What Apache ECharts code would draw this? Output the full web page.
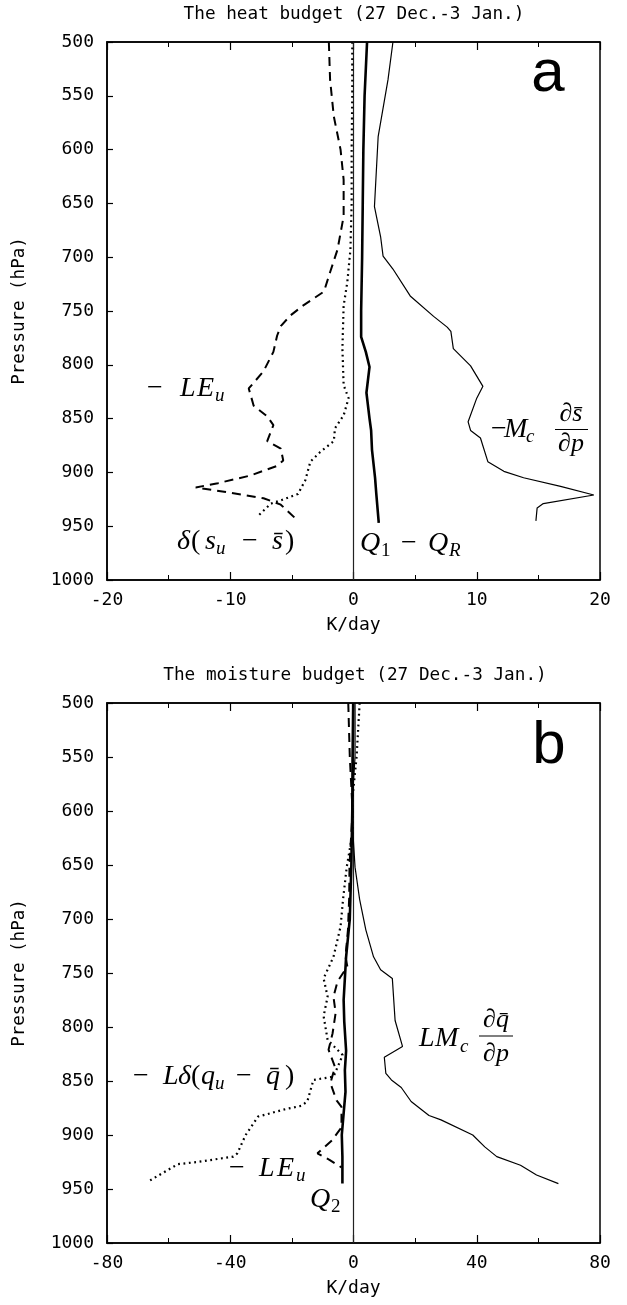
<!DOCTYPE html>
<html><head><meta charset="utf-8">
<script src="https://cdn.jsdelivr.net/npm/echarts/dist/echarts.min.js"></script>
<style>html,body{margin:0;padding:0;background:#fff}#c{width:627px;height:1305px}</style>
</head><body><div id="c"></div>
<script>
// ---------- data (pressure hPa, value K/day) ----------
const pressureTicks = [500,550,600,650,700,750,800,850,900,950,1000];

// Panel a: heat budget
const a_Q1QR_p = [500,550,600,650,700,750,774,788,802,826,850,861,879,905,920,947];
const a_Q1QR_v = [1.1,0.9,0.8,0.75,0.7,0.62,0.62,1.0,1.3,1.05,1.3,1.43,1.5,1.75,1.85,2.05];

const a_Mc_p = [500,535,588,653,681,699,711,736,755,765,769,785,801,820,831,853,861,868,890,899,905,913,921,929,933,945];
const a_Mc_v = [3.2,2.8,2.0,1.7,2.2,2.4,3.2,4.6,6.5,7.6,7.9,8.1,9.5,10.5,10.0,9.3,9.5,10.3,10.9,12.2,13.8,16.8,19.5,15.4,14.9,14.8];

const a_LEu_p = [500,535,569,600,628,662,693,714,732,745,754,764,773,788,806,822,838,848,856,871,878,889,894,903,910,914,918,924,930,945];
const a_LEu_v = [-2.0,-1.9,-1.6,-1.05,-0.8,-0.8,-1.3,-1.9,-2.4,-4.1,-5.1,-5.9,-6.2,-6.5,-7.3,-8.5,-8.1,-7.0,-6.5,-7.0,-5.9,-5.7,-6.2,-8.4,-11,-12.8,-10.5,-7.3,-5.9,-4.5];

const a_dS_p = [500,550,600,650,693,723,745,785,819,831,847,859,871,881,890,907,920,926,929,940];
const a_dS_v = [-0.1,-0.1,-0.15,-0.15,-0.25,-0.5,-0.8,-0.9,-0.8,-0.4,-0.8,-1.5,-1.6,-2.7,-3.5,-3.9,-4.5,-5.9,-6.7,-7.7];

// Panel b: moisture budget
const b_Q2_p = [500,550,600,650,700,735,775,795,822,840,860,880,900,920,945];
const b_Q2_v = [-0.1,-0.3,-0.4,-0.7,-1.2,-2.4,-3.2,-3.0,-2.4,-2.8,-2.6,-3.2,-3.8,-3.6,-3.6];

const b_LEu_p = [500,550,600,650,680,710,735,744,758,772,787,806,821,837,852,868,874,893,905,917,923,930];
const b_LEu_v = [-1.7,-1.2,-0.3,-1.3,-1.4,-1.8,-2.6,-2.0,-5.2,-6.5,-5.8,-6.8,-8.1,-6.0,-7.5,-5.5,-3.9,-3.9,-7,-11.7,-7.8,-3.9];

const b_dQ_p = [500,550,590,620,652,682,707,735,755,772,790,812,826,846,849,869,873,876,883,900,917,920,925,927,942];
const b_dQ_v = [2,1,-0.4,-0.3,-2.2,-3.4,-4.2,-6.5,-9.7,-8.4,-9.7,-8.4,-3.5,-6.5,-13,-15,-17,-22,-31,-35,-37.7,-39,-50.6,-57,-66];

const b_LMc_p = [500,550,590,620,652,682,710,735,747,755,794,818,828,843,849,856,869,882,886,900,911,920,928,937,945];
const b_LMc_v = [0.5,0.5,-0.4,-0.2,0.5,2,4,6.5,8.8,12.6,13.5,15.9,10,10.5,12.3,15.5,18.7,24.5,28.4,38.7,42.6,46.5,54.2,59.4,66.5];

const zeroLine_p = [500,1000];
const zeroLine_v = [0,0];

// ---------- chart ----------
const chart = echarts.init(document.getElementById('c'), null, {renderer:'canvas'});
const MONO = '"DejaVu Sans Mono", monospace';
const SERIF = '"Liberation Serif", "DejaVu Serif", serif';

function pairs(ps, vs){ return ps.map((p,i)=>[vs[i], p]); }
function ser(ps, vs, g, ls){
  return {type:'line', xAxisIndex: g*2, yAxisIndex: g, data: pairs(ps, vs),
    showSymbol:false, symbol:'none', silent:true, animation:false,
    lineStyle: Object.assign({color:'#000'}, ls)};
}
const thin = {width:1.2};
const thick = {width:2.6};
const dashed = {width:2, type:[9,6]};
const dotted = {width:2.2, type:[1.8,3.6]};
const zero = {width:1.2, color:'#222'};

function xAx(g, min, max, iv, pos, labels){
  return {type:'value', gridIndex:g, min, max, interval:iv, position:pos,
    axisLine:{show:true, onZero:false, lineStyle:{color:'#000', width:1.5}},
    axisTick:{show:true, inside:true, length:8, lineStyle:{color:'#000', width:1.2}},
    minorTick:{show:true, splitNumber:2, length:5, lineStyle:{color:'#000', width:1}},
    splitLine:{show:false},
    axisLabel:{show:labels, margin:11, color:'#000', fontFamily:MONO, fontSize:18, formatter: v => String(v)},
    name: labels ? 'K/day' : '', nameLocation:'middle', nameGap:36,
    nameTextStyle:{color:'#000', fontFamily:MONO, fontSize:18}};
}
function yAx(g){
  return {type:'value', gridIndex:g, inverse:true, min:500, max:1000, interval:50,
    axisLine:{show:true, onZero:false, lineStyle:{color:'#000', width:1.5}},
    axisTick:{show:true, inside:true, length:6, lineStyle:{color:'#000', width:1.2}},
    splitLine:{show:false},
    axisLabel:{margin:13, color:'#000', fontFamily:MONO, fontSize:18, formatter: v => String(v)},
    name:'Pressure (hPa)', nameLocation:'middle', nameGap:79, nameRotate:90,
    nameTextStyle:{color:'#000', fontFamily:MONO, fontSize:17.5}};
}

function T(text, x, y, size, italic, align, fam){
  return {type:'text', x, y, silent:true, z:100,
    style:{text, fill:'#000', fontSize:size, fontStyle: italic?'italic':'normal',
      fontFamily: fam || SERIF, align: align||'left', verticalAlign:'middle'}};
}
function L(x1,y,x2){
  return {type:'line', silent:true, z:100, shape:{x1, y1:y, x2, y2:y}, style:{stroke:'#000', lineWidth:1.2}};
}
const S = 28, s = 19;
const graphics = [
  T('The heat budget (27 Dec.-3 Jan.)', 354, 14, 17.7, false, 'center', MONO),
  T('The moisture budget (27 Dec.-3 Jan.)', 355, 675, 17.7, false, 'center', MONO),
  T('a', 548, 74, 60, false, 'center', '"Liberation Sans", Arial, sans-serif'),
  T('b', 549, 746, 60, false, 'center', '"Liberation Sans", Arial, sans-serif'),
  // − LE_u (a)
  T('\u2212', 147, 389, S, false), T('L', 180, 389, S, true), T('E', 197, 389, S, true), T('u', 215, 396, s, true),
  // δ(s_u − s̄)
  T('\u03b4', 177, 542, S, true), T('(', 191, 542, S, false), T('s', 205, 542, S, true), T('u', 216, 549, s, true),
  T('\u2212', 242, 542, S, false), T('s\u0304', 272, 542, S, true), T(')', 285, 542, S, false),
  // Q_1 − Q_R
  T('Q', 360, 544, S, true), T('1', 381, 551, s, false), T('\u2212', 401, 544, S, false),
  T('Q', 428, 544, S, true), T('R', 449, 551, s, true),
  // −M_c ∂s̄/∂p
  T('\u2212', 491, 430, S, false), T('M', 504, 430, S, true), T('c', 526, 437, s, true),
  T('\u2202s\u0304', 571, 414, 26, true, 'center'), L(555, 429.5, 588), T('\u2202p', 571, 444, 26, true, 'center'),
  // −Lδ(q_u − q̄)
  T('\u2212', 133, 1077, S, false), T('L', 163, 1077, S, true), T('\u03b4', 178, 1077, S, true), T('(', 191, 1077, S, false),
  T('q', 201, 1077, S, true), T('u', 215, 1084, s, true), T('\u2212', 236, 1077, S, false),
  T('q\u0304', 266, 1077, S, true), T(')', 285, 1077, S, false),
  // −LE_u (b)
  T('\u2212', 229, 1169, S, false), T('L', 259, 1169, S, true), T('E', 277, 1169, S, true), T('u', 296, 1176, s, true),
  // Q_2
  T('Q', 310, 1200, S, true), T('2', 331, 1207, s, false),
  // LM_c ∂q̄/∂p
  T('L', 419, 1039, S, true), T('M', 435, 1039, S, true), T('c', 460, 1047, s, true),
  T('\u2202q\u0304', 496, 1020, 26, true, 'center'), L(479, 1036, 513), T('\u2202p', 496, 1054, 26, true, 'center')
];

const option = {
  animation:false,
  backgroundColor:'#fff',
  grid:[
    {left:107, top:42, width:493, height:538, show:true, borderColor:'#000', borderWidth:1.5, backgroundColor:'transparent'},
    {left:107, top:703, width:493, height:540, show:true, borderColor:'#000', borderWidth:1.5, backgroundColor:'transparent'}
  ],
  xAxis:[
    xAx(0,-20,20,10,'bottom',true), xAx(0,-20,20,10,'top',false),
    xAx(1,-80,80,40,'bottom',true), xAx(1,-80,80,40,'top',false)
  ],
  yAxis:[ yAx(0), yAx(1) ],
  series:[
    ser(zeroLine_p, zeroLine_v, 0, zero),
    ser(a_Q1QR_p, a_Q1QR_v, 0, thick),
    ser(a_Mc_p, a_Mc_v, 0, thin),
    ser(a_LEu_p, a_LEu_v, 0, dashed),
    ser(a_dS_p, a_dS_v, 0, dotted),
    ser(zeroLine_p, zeroLine_v, 1, zero),
    ser(b_Q2_p, b_Q2_v, 1, thick),
    ser(b_LMc_p, b_LMc_v, 1, thin),
    ser(b_LEu_p, b_LEu_v, 1, dashed),
    ser(b_dQ_p, b_dQ_v, 1, dotted)
  ],
  graphic: graphics
};
chart.setOption(option);
</script></body></html>
